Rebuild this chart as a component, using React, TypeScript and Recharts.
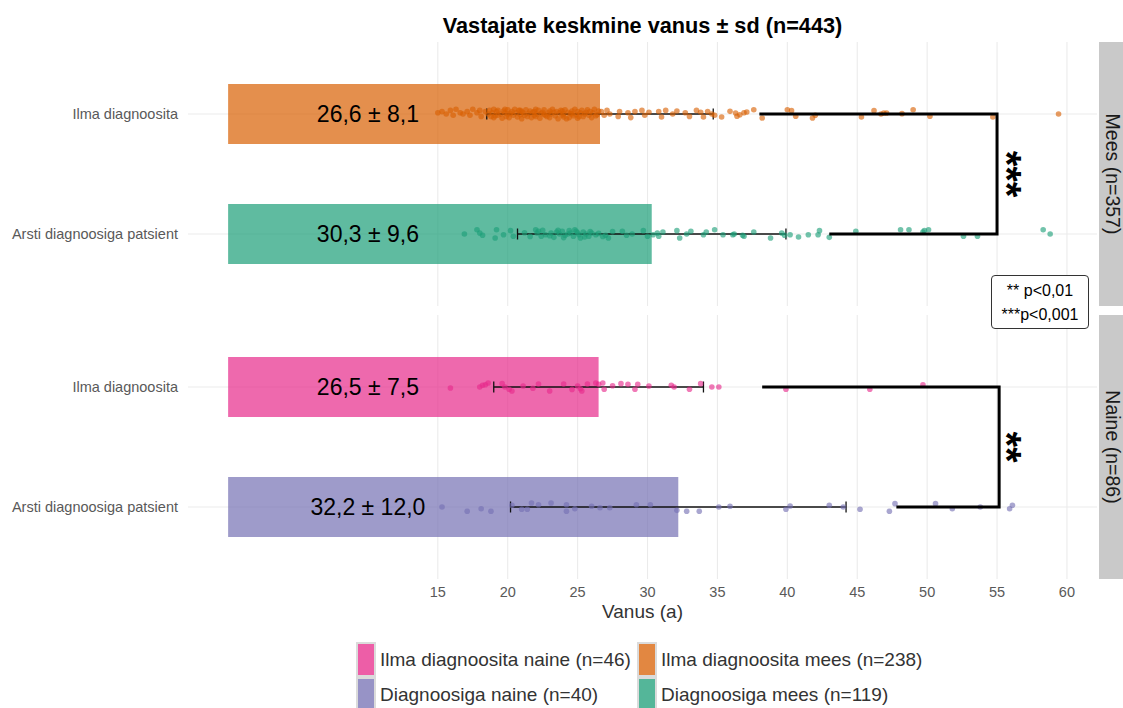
import React from "react";
import {
  ComposedChart,
  Bar,
  Cell,
  ErrorBar,
  Scatter,
  XAxis,
  YAxis,
  CartesianGrid,
} from "recharts";

type Pt = [number, number];

const categories = ["Ilma diagnoosita", "Arsti diagnoosiga patsient"];
// numeric row positions on the hidden point axis (top row first)
const rowPos = [1, 2];
const xTicks = [15, 20, 25, 30, 35, 40, 45, 50, 55, 60];
const xDomain = [-2.87, 62.15];

const meesMeans = [26.6, 30.3];
const meesSd = [8.1, 9.6];
const meesLabels = ["26,6 ± 8,1", "30,3 ± 9,6"];
const meesColors = ["#D95F02", "#1B9E77"];

const naineMeans = [26.5, 32.2];
const naineSd = [7.5, 12.0];
const naineLabels = ["26,5 ± 7,5", "32,2 ± 12,0"];
const naineColors = ["#E7298A", "#7570B3"];

// significance brackets: [start top row, right edge, end bottom row]
const meesBracket = [38, 55, 43];
const naineBracket = [38.2, 55.15, 47.8];
const meesStars = "***";
const naineStars = "**";
const starX = 56.3;
const labelX = 10;

const facetLabels = ["Mees (n=357)", "Naine (n=86)"];
const pLegend = ["** p<0,01", "***p<0,001"];

const legendLabels = [
  "Ilma diagnoosita naine (n=46)",
  "Diagnoosiga naine (n=40)",
  "Ilma diagnoosita mees (n=238)",
  "Diagnoosiga mees (n=119)",
];
const legendColors = ["#E7298A", "#7570B3", "#D95F02", "#1B9E77"];

// jittered points: [age, vertical jitter (+ = up)]
const meesIlmaPts: Pt[] = [
  [15.0, 0.01], [15.3, 0.02], [15.6, 0.0], [15.9, 0.03], [16.1, -0.01], [16.3, 0.04], [16.6, 0.01],
  [16.8, 0.0], [17.1, 0.02], [17.3, -0.01], [17.5, 0.04], [17.8, 0.01], [18.0, 0.03], [18.1, -0.02],
  [18.4, 0.02], [18.6, 0.0], [18.7, 0.03], [18.8, -0.02], [18.9, 0.01], [19.0, 0.04], [19.0, -0.03],
  [19.1, -0.015], [19.2, 0.02], [19.3, -0.01], [19.3, 0.03], [19.5, 0.0], [19.6, -0.035], [19.7, 0.025],
  [19.8, 0.01], [19.8, 0.04], [19.9, -0.02], [20.0, 0.035], [20.0, 0.0], [20.1, -0.03], [20.2, 0.005],
  [20.3, 0.02], [20.4, -0.01], [20.5, 0.04], [20.6, 0.01], [20.7, -0.025], [20.8, 0.03], [20.9, -0.005],
  [20.9, 0.03], [21.0, 0.02], [21.0, -0.04], [21.1, 0.01], [21.2, -0.01], [21.3, 0.035], [21.4, -0.02],
  [21.5, 0.005], [21.6, 0.025], [21.7, -0.03], [21.8, 0.015], [21.9, -0.01], [21.9, 0.02], [22.0, 0.04],
  [22.0, -0.02], [22.1, 0.0], [22.2, 0.03], [22.3, -0.035], [22.4, 0.005], [22.5, 0.015], [22.6, -0.005],
  [22.6, 0.035], [22.7, -0.01], [22.8, -0.02], [22.9, 0.01], [23.0, 0.025], [23.0, -0.03], [23.1, 0.0],
  [23.2, 0.04], [23.3, 0.015], [23.4, -0.015], [23.5, 0.02], [23.6, -0.04], [23.7, 0.01], [23.8, 0.03],
  [23.9, -0.01], [23.9, 0.025], [24.0, 0.0], [24.0, -0.025], [24.1, 0.035], [24.2, -0.04], [24.3, 0.015],
  [24.4, -0.03], [24.5, 0.005], [24.6, 0.025], [24.6, 0.0], [24.7, -0.015], [24.8, 0.04], [24.9, -0.005],
  [25.0, 0.02], [25.0, -0.035], [25.1, -0.02], [25.2, 0.01], [25.3, 0.03], [25.4, -0.02], [25.5, 0.0],
  [25.6, 0.015], [25.7, 0.035], [25.8, -0.01], [25.9, 0.02], [26.0, -0.03], [26.1, 0.01], [26.2, 0.04],
  [26.3, -0.015], [26.4, -0.005], [26.5, 0.025], [26.7, 0.02], [26.9, -0.01], [27.1, 0.03], [27.3, 0.0],
  [27.9, -0.02], [28.0, 0.02], [28.6, 0.01], [28.8, -0.03], [29.1, 0.02], [29.6, 0.03], [29.8, -0.01],
  [30.1, 0.015], [30.8, 0.02], [31.0, -0.025], [31.3, 0.03], [31.8, 0.0], [32.1, 0.025], [32.7, 0.01],
  [33.0, -0.02], [33.5, 0.03], [33.8, 0.015], [34.0, -0.025], [34.3, 0.02], [34.6, 0.0], [34.8, -0.01],
  [35.3, -0.025], [35.9, 0.022], [36.3, 0.008], [36.4, -0.019], [36.6, -0.006], [36.9, 0.01],
  [37.1, 0.017], [37.6, 0.036], [38.2, -0.033], [40.0, 0.036], [40.3, 0.028], [40.6, -0.019],
  [41.8, -0.033], [42.0, -0.011], [45.3, -0.025], [46.2, 0.028], [46.7, 0.0], [46.9, 0.008],
  [47.1, 0.008], [48.2, 0.003], [49.0, 0.036], [50.2, -0.019], [54.7, -0.025], [59.4, 0.0],
];

const meesArstiPts: Pt[] = [
  [16.9, 0.0], [17.8, 0.036], [18.0, 0.008], [18.2, -0.011], [19.1, -0.033], [19.2, 0.036], [19.7, -0.006],
  [20.2, 0.028], [20.4, -0.019], [21.2, 0.01], [21.6, -0.02], [22.0, 0.036], [22.1, 0.008], [22.2, 0.022],
  [22.4, -0.019], [22.5, 0.03], [22.7, -0.006], [23.0, -0.015], [23.1, 0.008], [23.3, -0.028], [23.5, 0.017],
  [23.6, 0.03], [23.7, 0.0], [23.9, 0.022], [24.0, -0.03], [24.1, -0.011], [24.3, 0.0], [24.4, 0.028],
  [24.5, 0.008], [24.7, -0.019], [24.8, 0.035], [24.9, 0.022], [25.0, 0.01], [25.1, -0.006], [25.2, -0.033],
  [25.4, 0.017], [25.5, -0.025], [25.6, 0.0], [25.8, -0.019], [25.9, 0.02], [26.0, 0.008], [26.3, -0.006],
  [26.5, 0.005], [26.8, -0.02], [27.0, -0.011], [27.2, -0.033], [27.5, 0.02], [28.2, 0.022], [28.5, -0.01],
  [28.9, 0.0], [29.7, 0.028], [30.0, -0.019], [30.4, -0.006], [30.7, 0.008], [30.8, -0.019], [31.1, 0.017],
  [32.1, 0.028], [32.3, -0.033], [32.8, 0.0], [33.1, 0.022], [34.0, -0.006], [34.2, 0.017], [34.8, 0.036],
  [35.4, -0.006], [36.1, -0.006], [36.2, 0.0], [36.8, -0.011], [36.9, -0.019], [37.6, 0.017], [38.8, -0.033],
  [39.6, 0.008], [39.8, -0.011], [40.2, -0.006], [40.8, -0.025], [41.5, -0.006], [42.2, -0.006],
  [42.3, 0.028], [43.0, -0.028], [44.9, 0.022], [48.1, 0.036], [48.7, 0.036], [49.7, 0.017], [49.8, 0.028],
  [50.1, 0.036], [52.6, -0.019], [53.6, -0.019], [58.3, 0.036], [58.8, 0.0],
];

const naineIlmaPts: Pt[] = [
  [15.9, -0.008], [18.0, 0.0], [18.2, 0.014], [18.4, 0.019], [18.6, 0.033], [19.6, 0.028], [19.8, 0.0],
  [20.1, -0.019], [20.3, -0.033], [21.1, 0.008], [21.8, -0.01], [22.2, 0.025], [23.0, -0.033],
  [24.0, 0.025], [24.6, -0.02], [25.0, 0.008], [25.2, -0.014], [25.3, -0.033], [25.7, 0.025],
  [26.3, 0.033], [26.5, 0.022], [26.8, 0.033], [26.9, -0.019], [27.5, 0.01], [28.1, 0.028],
  [28.6, 0.022], [29.1, -0.019], [29.3, 0.022], [30.1, 0.008], [31.7, 0.014], [31.9, 0.0],
  [33.0, -0.019], [33.8, 0.028], [34.6, 0.0], [35.1, 0.0], [39.9, -0.019], [45.9, -0.019], [49.7, 0.019],
];

const naineArstiPts: Pt[] = [
  [15.3, 0.0], [17.1, -0.036], [18.1, -0.014], [18.8, -0.036], [20.3, 0.014], [21.0, -0.019],
  [21.4, -0.019], [21.7, 0.033], [22.2, 0.019], [23.1, 0.033], [24.2, 0.019], [24.2, -0.036],
  [24.8, -0.014], [26.0, 0.006], [26.6, -0.006], [27.3, -0.006], [29.2, 0.019], [30.2, 0.019],
  [32.1, -0.028], [32.8, -0.036], [33.7, -0.036], [35.1, 0.0], [35.9, 0.006], [39.9, -0.019],
  [40.2, 0.008], [43.0, 0.014], [44.0, 0.0], [45.2, -0.019], [47.3, -0.036], [47.7, 0.028],
  [50.6, 0.028], [51.8, -0.014], [53.8, 0.0], [55.9, -0.014], [56.1, 0.014],
];

const FONT = "'Liberation Sans', Arial, sans-serif";

type PanelProps = {
  means: number[];
  sds: number[];
  labels: string[];
  colors: string[];
  groups: Pt[][];
  bracket: number[];
  stars: string;
  showX: boolean;
};

function Panel({ means, sds, labels, colors, groups, bracket, stars, showX }: PanelProps) {
  const barData = categories.map((name, i) => ({ name, mean: means[i], sd: sds[i] }));
  const labelData = labels.map((t, i) => ({ x: labelX, y: rowPos[i], t }));
  const bracketData = [
    { x: bracket[0], y: rowPos[0] },
    { x: bracket[1], y: rowPos[0] },
    { x: bracket[1], y: rowPos[1] },
    { x: bracket[2], y: rowPos[1] },
  ];
  const starData = [{ x: starX, y: (rowPos[0] + rowPos[1]) / 2, t: stars }];

  return (
    <ComposedChart
      width={1097}
      height={showX ? 294 : 264}
      layout="vertical"
      data={barData}
      margin={{ top: 0, right: 0, bottom: 0, left: 0 }}
    >
      <CartesianGrid
        stroke="#ebebeb"
        strokeWidth={1.1}
        yAxisId="num"
        horizontalValues={rowPos}
        verticalValues={xTicks}
      />
      <XAxis
        type="number"
        dataKey="x"
        domain={xDomain}
        ticks={xTicks}
        interval={0}
        allowDataOverflow
        hide={!showX}
        height={30}
        tickSize={0}
        tickMargin={8}
        axisLine={false}
        tickLine={false}
        tick={{ fill: "#595959", fontSize: 14.5 }}
      />
      <YAxis
        yAxisId="cat"
        type="category"
        dataKey="name"
        width={188}
        tickSize={0}
        tickMargin={10}
        axisLine={false}
        tickLine={false}
        padding={{ top: 12, bottom: 12 }}
        tick={{ fill: "#595959", fontSize: 14.5 }}
      />
      <YAxis yAxisId="num" type="number" dataKey="y" domain={[0.4, 2.6]} allowDataOverflow hide />
      <Bar yAxisId="cat" dataKey="mean" barSize={60} fillOpacity={0.7} isAnimationActive={false}>
        {barData.map((d, i) => (
          <Cell key={d.name} fill={colors[i]} />
        ))}
        <ErrorBar dataKey="sd" direction="x" width={5.5} stroke="#111" strokeWidth={1.3} />
      </Bar>
      {groups.map((g, gi) => (
        <Scatter
          key={gi}
          yAxisId="num"
          data={g.map(([age, dy]) => ({ x: age, y: rowPos[gi] - dy }))}
          isAnimationActive={false}
          shape={(p: any) => (
            <circle cx={p.cx} cy={p.cy} r={2.8} fill={colors[gi]} fillOpacity={0.62} />
          )}
        />
      ))}
      <Scatter
        yAxisId="num"
        data={bracketData}
        isAnimationActive={false}
        line={{ stroke: "#000", strokeWidth: 3 }}
        shape={() => <g />}
      />
      <Scatter
        yAxisId="num"
        data={labelData}
        isAnimationActive={false}
        shape={(p: any) => (
          <text x={p.cx} y={p.cy} textAnchor="middle" dominantBaseline="central" fontSize={23} fill="#000">
            {p.payload.t}
          </text>
        )}
      />
      <Scatter
        yAxisId="num"
        data={starData}
        isAnimationActive={false}
        shape={(p: any) => (
          <text
            x={p.cx}
            y={p.cy}
            dy="0.21em"
            transform={`rotate(90 ${p.cx} ${p.cy})`}
            textAnchor="middle"
            dominantBaseline="central"
            fontSize={40}
            fontWeight="bold"
            fill="#000"
          >
            {p.payload.t}
          </text>
        )}
      />
    </ComposedChart>
  );
}

function Strip({ top, label }: { top: number; label: string }) {
  return (
    <svg style={{ position: "absolute", left: 1099, top, overflow: "visible" }} width={30} height={264}>
      <rect x={0} y={0} width={30} height={264} fill="#c9c9c9" />
      <text
        x={14}
        y={132}
        transform="rotate(90 14 132)"
        textAnchor="middle"
        dominantBaseline="central"
        fontSize={19.5}
        fill="#1a1a1a"
      >
        {label}
      </text>
    </svg>
  );
}

export default function App() {
  return (
    <div style={{ position: "relative", width: 1123, height: 708, overflow: "hidden", background: "#fff", fontFamily: FONT }}>
      <style>{`body{margin:0}`}</style>
      <div
        style={{
          position: "absolute",
          left: 188,
          width: 909,
          top: 14,
          textAlign: "center",
          fontWeight: "bold",
          fontSize: 21.7,
          lineHeight: "24px",
          color: "#000",
        }}
      >
        Vastajate keskmine vanus ± sd (n=443)
      </div>

      <div style={{ position: "absolute", left: 0, top: 42 }}>
        <Panel
          means={meesMeans}
          sds={meesSd}
          labels={meesLabels}
          colors={meesColors}
          groups={[meesIlmaPts, meesArstiPts]}
          bracket={meesBracket}
          stars={meesStars}
          showX={false}
        />
      </div>
      <div style={{ position: "absolute", left: 0, top: 315 }}>
        <Panel
          means={naineMeans}
          sds={naineSd}
          labels={naineLabels}
          colors={naineColors}
          groups={[naineIlmaPts, naineArstiPts]}
          bracket={naineBracket}
          stars={naineStars}
          showX={true}
        />
      </div>

      <Strip top={42} label={facetLabels[0]} />
      <Strip top={315} label={facetLabels[1]} />

      <div
        style={{
          position: "absolute",
          left: 991,
          top: 275,
          width: 98,
          height: 54,
          border: "1px solid #333",
          borderRadius: 4,
          background: "#fff",
          fontSize: 16,
          lineHeight: "24px",
          textAlign: "center",
          color: "#000",
          paddingTop: 3,
          boxSizing: "border-box",
        }}
      >
        {pLegend.map((t) => (
          <div key={t}>{t}</div>
        ))}
      </div>

      <div
        style={{
          position: "absolute",
          left: 188,
          width: 909,
          top: 601,
          textAlign: "center",
          fontSize: 19,
          lineHeight: "22px",
          color: "#333",
        }}
      >
        Vanus (a)
      </div>

      {legendLabels.map((t, i) => {
        const col = Math.floor(i / 2);
        const row = i % 2;
        return (
          <div
            key={t}
            style={{
              position: "absolute",
              left: col === 0 ? 356 : 637,
              top: 642 + row * 35,
              height: 35,
              display: "flex",
              alignItems: "center",
              fontSize: 19,
              color: "#333",
              whiteSpace: "nowrap",
            }}
          >
            <div
              style={{
                width: 20,
                height: 35,
                boxSizing: "border-box",
                border: "2px solid #cfcfcf",
                background: legendColors[i],
                opacity: 0.75,
                marginRight: 4,
              }}
            />
            <span>{t}</span>
          </div>
        );
      })}
    </div>
  );
}
